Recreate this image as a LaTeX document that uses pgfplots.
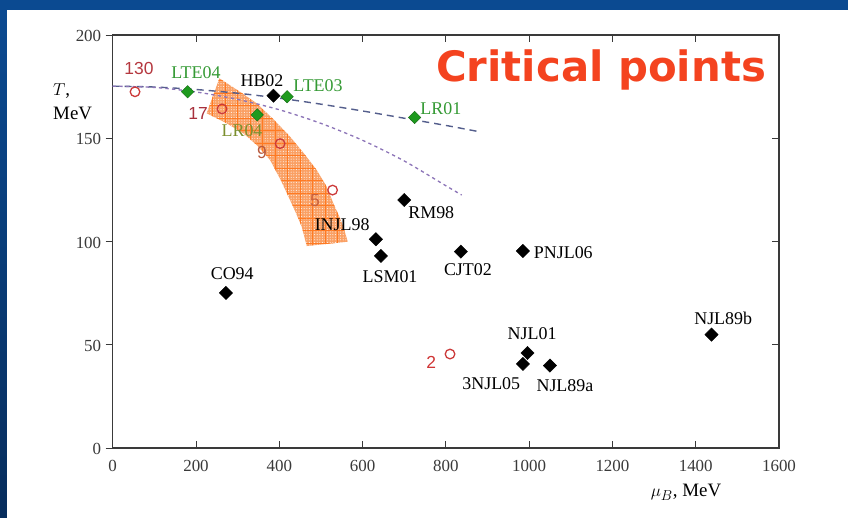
\documentclass[border=0pt]{standalone}
\usepackage{pgfplots}
\usepackage{pgfplotstable}
\pgfplotsset{compat=1.18}
\usepackage{fontspec}
\setmainfont{Liberation Serif}
\newfontfamily\numfont{Liberation Sans}
\newfontfamily\titlefont{DejaVu Sans}
\usetikzlibrary{patterns.meta}

\definecolor{slideblue}{HTML}{0B4A91}
\definecolor{slidedark}{HTML}{072D5C}
\definecolor{axisgray}{HTML}{3A3A3A}
\definecolor{titlered}{HTML}{F4431F}
\definecolor{labgreen}{HTML}{349A34}
\definecolor{markgreen}{HTML}{1E9A1E}
\definecolor{circred}{HTML}{CC3A3A}
\definecolor{curveA}{HTML}{545E8C}
\definecolor{curveB}{HTML}{8C74B8}
\definecolor{bandfill}{HTML}{FAA064}
\definecolor{bandline}{HTML}{FF7A22}
\definecolor{redA}{HTML}{B5383F}
\definecolor{redB}{HTML}{A8303C}
\definecolor{redC}{HTML}{B8583C}
\definecolor{redD}{HTML}{C8603E}
\definecolor{redE}{HTML}{D03535}

\tikzset{
  lab/.style={font=\fontsize{18}{18}\selectfont, text=black, inner sep=0pt},
  glab/.style={font=\fontsize{18}{18}\selectfont, text=labgreen, inner sep=0pt},
  rlab/.style={font=\numfont\fontsize{17.5}{17.5}\selectfont, inner sep=0pt},
}

% model critical points (mu_B, T) in MeV
\pgfplotstableread{
mu T
386 170.6
700 120.1
632 101.1
644 93.0
836 95.1
985 95.4
996 46.0
985 40.7
1050 39.9
272 75.1
1438 54.9
}\blackpts

% lattice estimates
\pgfplotstableread{
mu T
180 172.5
419 170.1
347 161.3
725 160.1
}\greenpts

% freeze-out points labelled by collision energy
\pgfplotstableread{
mu T
53.6 172.5
262.5 164.2
402 147.4
528 124.9
810 45.5
}\redpts

% upper dashed curve
\pgfplotstableread{
mu T
0 175.2
100 174.8
200 173.6
300 171.8
400 169.4
500 166.5
600 163.2
700 159.7
800 156.2
874 153.4
}\curveone

% lower dashed curve
\pgfplotstableread{
mu T
0 175.2
100 174.6
200 172.4
300 168.8
400 163.8
500 157.2
600 149.0
700 139.0
800 127.0
838 122.5
}\curvetwo

% shaded band, outer edge then inner edge
\pgfplotstableread{
mu T
225.7 162.1
256.1 179.0
305.7 172.5
345.8 166.9
385.7 159.2
425.8 150.8
457.8 143.0
489.9 134.6
513.9 126.5
529.8 118.5
544.2 112.0
553.8 107.2
564.4 99.9
465.9 97.8
453.9 107.2
440.2 113.7
425.8 120.1
403.4 129.8
377.8 139.5
345.8 146.7
313.6 152.4
273.8 157.2
225.7 162.1
}\band

\begin{document}
\begin{tikzpicture}[x=1bp,y=1bp]
% slide background
\fill[slideblue] (0,0) rectangle (848,518);
\shade[top color=slideblue, bottom color=slidedark] (0,0) rectangle (7,508);
\fill[white] (7,0) rectangle (848,508);

\pgfplotsset{
  cpframe/.style={
    at={(112.7bp,70bp)}, anchor=south west,
    scale only axis, width=666.3bp, height=413bp,
    xmin=0, xmax=1600, ymin=0, ymax=200,
    xtick={0,200,...,1600}, ytick={0,50,...,200},
    major tick length=7bp,
    every tick/.style={draw=axisgray, line width=0.9bp},
  }
}

% right-hand ticks point inwards
\begin{axis}[cpframe,
  axis line style={draw=none},
  xtick=\empty, ytick pos=right, ytick align=inside,
  yticklabels={},
]
\end{axis}

\begin{axis}[cpframe,
  xtick align=inside, ytick align=outside, ytick pos=left,
  axis line style={draw=axisgray, line width=1.1bp},
  /pgf/number format/assume math mode=true,
  /pgf/number format/1000 sep={},
  ticklabel style={font=\fontsize{17}{17}\selectfont, text=axisgray},
  every x tick label/.append style={yshift=-8.5bp},
  every y tick label/.append style={xshift=-1bp, yshift=-1bp},
  clip=false,
]
% band
\addplot[draw=none, fill=bandfill] table[x=mu,y=T] {\band} -- cycle;
\addplot[draw=none, pattern={Dots[distance=2.6bp,radius=0.55bp]}, pattern color=white!88!bandfill] table[x=mu,y=T] {\band} -- cycle;
\addplot[draw=none, pattern={Hatch[angle=0,distance=12.5bp,line width=0.9bp]}, pattern color=bandline] table[x=mu,y=T] {\band} -- cycle;

% curves
\addplot[curveA, line width=1.4bp, dash pattern=on 7bp off 5bp, smooth] table[x=mu,y=T] {\curveone};
\addplot[curveB, line width=1.3bp, dash pattern=on 3.3bp off 3.3bp, smooth] table[x=mu,y=T] {\curvetwo};

% points
\addplot[only marks, mark=square*, mark size=4.7bp, mark options={rotate=45, fill=black, draw=black}] table[x=mu,y=T] {\blackpts};
\addplot[only marks, mark=square*, mark size=4.4bp, mark options={rotate=45, fill=markgreen, draw=markgreen!70!black}] table[x=mu,y=T] {\greenpts};
\addplot[only marks, mark=o, mark size=4.8bp, mark options={draw=circred, line width=1.3bp}] table[x=mu,y=T] {\redpts};

% labels
\node[lab] at (axis cs:358.5,177.7) {HB02};
\node[lab] at (axis cs:765,113.8) {RM98};
\node[lab] at (axis cs:551,108.0) {INJL98};
\node[lab] at (axis cs:666,82.8) {LSM01};
\node[lab] at (axis cs:853,86.2) {CJT02};
\node[lab] at (axis cs:1082,94.4) {PNJL06};
\node[lab] at (axis cs:1007,55.2) {NJL01};
\node[lab] at (axis cs:909,31.0) {3NJL05};
\node[lab] at (axis cs:1086,30.0) {NJL89a};
\node[lab] at (axis cs:1466,63.0) {NJL89b};
\node[lab] at (axis cs:287,84.3) {CO94};
\node[glab] at (axis cs:200,181.6) {LTE04};
\node[glab] at (axis cs:493,175.3) {LTE03};
\node[glab] at (axis cs:788,164.2) {LR01};
\node[glab, text=labgreen!65!bandline] at (axis cs:310.5,153.5) {LR04};
\node[rlab, text=redA] at (axis cs:63,184.0) {130};
\node[rlab, text=redB] at (axis cs:205,162.2) {17};
\node[rlab, text=redC] at (axis cs:358.5,142.9) {9};
\node[rlab, text=redD] at (axis cs:486,119.6) {5};
\node[rlab, text=redE] at (axis cs:765,41.6) {2};
\end{axis}

% axis titles
\node[anchor=base west, inner sep=0pt, font=\fontsize{19}{19}\selectfont] at (53,422) {$T$,};
\node[anchor=base west, inner sep=0pt, font=\fontsize{19}{19}\selectfont] at (53,398) {MeV};
\node[anchor=base, inner sep=0pt, font=\fontsize{19}{19}\selectfont] at (686,21) {$\mu_B$, MeV};

% slide title
\node[anchor=base west, inner sep=0pt, text=titlered, font=\titlefont\bfseries\fontsize{42}{42}\selectfont] at (436,436) {Critical points};
\end{tikzpicture}
\end{document}
